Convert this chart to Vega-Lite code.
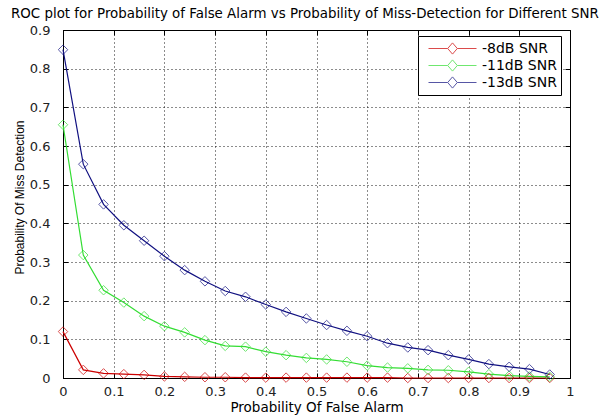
{
  "$schema": "https://vega.github.io/schema/vega-lite/v6.json",
  "width": 507,
  "height": 348,
  "autosize": {"type": "none"},
  "padding": {"left": 63, "top": 30, "right": 40, "bottom": 39},
  "background": "white",
  "title": {
    "text": "ROC plot for Probability of False Alarm vs Probability of Miss-Detection for Different SNR",
    "anchor": "start",
    "frame": "group",
    "dx": -52,
    "offset": 4,
    "font": "DejaVu Sans",
    "fontSize": 13.4,
    "fontWeight": "normal",
    "color": "black"
  },
  "resolve": {"axis": {"x": "independent", "y": "independent"}},
  "config": {
    "view": {"stroke": "black", "strokeWidth": 1},
    "axis": {
      "labelFont": "DejaVu Sans",
      "labelFontSize": 13,
      "labelColor": "#222222",
      "labelFlush": false,
      "titleFont": "DejaVu Sans",
      "titleFontSize": 13.5,
      "titleFontWeight": "normal",
      "titleColor": "black",
      "domainColor": "black",
      "tickColor": "black",
      "gridColor": "black",
      "gridDash": [1, 3],
      "gridOpacity": 0.9,
      "gridWidth": 1
    }
  },
  "data": {
    "values": [
      {"snr": "-8dB SNR", "pfa": 0.00, "pmd": 0.120},
      {"snr": "-8dB SNR", "pfa": 0.04, "pmd": 0.021},
      {"snr": "-8dB SNR", "pfa": 0.08, "pmd": 0.012},
      {"snr": "-8dB SNR", "pfa": 0.12, "pmd": 0.010},
      {"snr": "-8dB SNR", "pfa": 0.16, "pmd": 0.008},
      {"snr": "-8dB SNR", "pfa": 0.20, "pmd": 0.004},
      {"snr": "-8dB SNR", "pfa": 0.24, "pmd": 0.003},
      {"snr": "-8dB SNR", "pfa": 0.28, "pmd": 0.002},
      {"snr": "-8dB SNR", "pfa": 0.32, "pmd": 0.002},
      {"snr": "-8dB SNR", "pfa": 0.36, "pmd": 0.001},
      {"snr": "-8dB SNR", "pfa": 0.40, "pmd": 0.001},
      {"snr": "-8dB SNR", "pfa": 0.44, "pmd": 0.001},
      {"snr": "-8dB SNR", "pfa": 0.48, "pmd": 0.001},
      {"snr": "-8dB SNR", "pfa": 0.52, "pmd": 0.001},
      {"snr": "-8dB SNR", "pfa": 0.56, "pmd": 0.001},
      {"snr": "-8dB SNR", "pfa": 0.60, "pmd": 0.001},
      {"snr": "-8dB SNR", "pfa": 0.64, "pmd": 0.001},
      {"snr": "-8dB SNR", "pfa": 0.68, "pmd": 0.000},
      {"snr": "-8dB SNR", "pfa": 0.72, "pmd": 0.000},
      {"snr": "-8dB SNR", "pfa": 0.76, "pmd": 0.000},
      {"snr": "-8dB SNR", "pfa": 0.80, "pmd": 0.000},
      {"snr": "-8dB SNR", "pfa": 0.84, "pmd": 0.000},
      {"snr": "-8dB SNR", "pfa": 0.88, "pmd": 0.000},
      {"snr": "-8dB SNR", "pfa": 0.92, "pmd": 0.000},
      {"snr": "-8dB SNR", "pfa": 0.96, "pmd": 0.000},
      {"snr": "-11dB SNR", "pfa": 0.00, "pmd": 0.655},
      {"snr": "-11dB SNR", "pfa": 0.04, "pmd": 0.318},
      {"snr": "-11dB SNR", "pfa": 0.08, "pmd": 0.227},
      {"snr": "-11dB SNR", "pfa": 0.12, "pmd": 0.195},
      {"snr": "-11dB SNR", "pfa": 0.16, "pmd": 0.160},
      {"snr": "-11dB SNR", "pfa": 0.20, "pmd": 0.134},
      {"snr": "-11dB SNR", "pfa": 0.24, "pmd": 0.118},
      {"snr": "-11dB SNR", "pfa": 0.28, "pmd": 0.098},
      {"snr": "-11dB SNR", "pfa": 0.32, "pmd": 0.083},
      {"snr": "-11dB SNR", "pfa": 0.36, "pmd": 0.081},
      {"snr": "-11dB SNR", "pfa": 0.40, "pmd": 0.068},
      {"snr": "-11dB SNR", "pfa": 0.44, "pmd": 0.059},
      {"snr": "-11dB SNR", "pfa": 0.48, "pmd": 0.052},
      {"snr": "-11dB SNR", "pfa": 0.52, "pmd": 0.048},
      {"snr": "-11dB SNR", "pfa": 0.56, "pmd": 0.042},
      {"snr": "-11dB SNR", "pfa": 0.60, "pmd": 0.032},
      {"snr": "-11dB SNR", "pfa": 0.64, "pmd": 0.027},
      {"snr": "-11dB SNR", "pfa": 0.68, "pmd": 0.025},
      {"snr": "-11dB SNR", "pfa": 0.72, "pmd": 0.021},
      {"snr": "-11dB SNR", "pfa": 0.76, "pmd": 0.020},
      {"snr": "-11dB SNR", "pfa": 0.80, "pmd": 0.016},
      {"snr": "-11dB SNR", "pfa": 0.84, "pmd": 0.010},
      {"snr": "-11dB SNR", "pfa": 0.88, "pmd": 0.006},
      {"snr": "-11dB SNR", "pfa": 0.92, "pmd": 0.004},
      {"snr": "-11dB SNR", "pfa": 0.96, "pmd": 0.003},
      {"snr": "-13dB SNR", "pfa": 0.00, "pmd": 0.849},
      {"snr": "-13dB SNR", "pfa": 0.04, "pmd": 0.553},
      {"snr": "-13dB SNR", "pfa": 0.08, "pmd": 0.449},
      {"snr": "-13dB SNR", "pfa": 0.12, "pmd": 0.395},
      {"snr": "-13dB SNR", "pfa": 0.16, "pmd": 0.355},
      {"snr": "-13dB SNR", "pfa": 0.20, "pmd": 0.315},
      {"snr": "-13dB SNR", "pfa": 0.24, "pmd": 0.279},
      {"snr": "-13dB SNR", "pfa": 0.28, "pmd": 0.250},
      {"snr": "-13dB SNR", "pfa": 0.32, "pmd": 0.225},
      {"snr": "-13dB SNR", "pfa": 0.36, "pmd": 0.210},
      {"snr": "-13dB SNR", "pfa": 0.40, "pmd": 0.190},
      {"snr": "-13dB SNR", "pfa": 0.44, "pmd": 0.171},
      {"snr": "-13dB SNR", "pfa": 0.48, "pmd": 0.154},
      {"snr": "-13dB SNR", "pfa": 0.52, "pmd": 0.137},
      {"snr": "-13dB SNR", "pfa": 0.56, "pmd": 0.122},
      {"snr": "-13dB SNR", "pfa": 0.60, "pmd": 0.108},
      {"snr": "-13dB SNR", "pfa": 0.64, "pmd": 0.090},
      {"snr": "-13dB SNR", "pfa": 0.68, "pmd": 0.079},
      {"snr": "-13dB SNR", "pfa": 0.72, "pmd": 0.072},
      {"snr": "-13dB SNR", "pfa": 0.76, "pmd": 0.059},
      {"snr": "-13dB SNR", "pfa": 0.80, "pmd": 0.048},
      {"snr": "-13dB SNR", "pfa": 0.84, "pmd": 0.036},
      {"snr": "-13dB SNR", "pfa": 0.88, "pmd": 0.029},
      {"snr": "-13dB SNR", "pfa": 0.92, "pmd": 0.023},
      {"snr": "-13dB SNR", "pfa": 0.96, "pmd": 0.009}
    ]
  },
  "layer": [
    {
      "mark": {"type": "line", "strokeWidth": 1.2},
      "encoding": {
        "x": {
          "field": "pfa",
          "type": "quantitative",
          "scale": {"domain": [0, 1], "nice": false, "zero": false},
          "axis": {
            "title": "Probability Of False Alarm",
            "values": [0, 0.1, 0.2, 0.3, 0.4, 0.5, 0.6, 0.7, 0.8, 0.9, 1],
            "format": "~g",
            "tickSize": -5,
            "labelFlush": false,
            "labelBaseline": "alphabetic",
            "labelPadding": 22,
            "titleBaseline": "alphabetic",
            "titleY": 33.5
          }
        },
        "y": {
          "field": "pmd",
          "type": "quantitative",
          "scale": {"domain": [0, 0.9], "nice": false},
          "axis": {
            "title": "Probability Of Miss Detection",
            "titleFont": "Liberation Sans",
            "titleFontSize": 12,
            "titleBaseline": "bottom",
            "titleAlign": "center",
            "titleX": -37,
            "titleY": 167,
            "values": [0, 0.1, 0.2, 0.3, 0.4, 0.5, 0.6, 0.7, 0.8, 0.9],
            "format": "~g",
            "tickSize": -5,
            "labelFlush": false,
            "labelPadding": 18
          }
        },
        "color": {
          "field": "snr",
          "type": "nominal",
          "scale": {
            "domain": ["-8dB SNR", "-11dB SNR", "-13dB SNR"],
            "range": ["#cc0000", "#33dd33", "#101080"]
          },
          "legend": {
            "title": null,
            "orient": "none",
            "legendX": 355,
            "legendY": 6,
            "symbolType": "M-3,0H-0.6M0.6,0H3M-0.6,0L0,-0.7L0.6,0L0,0.7Z",
            "symbolSize": 256,
            "symbolOffset": 22,
            "symbolStrokeWidth": 1,
            "symbolFillColor": "transparent",
            "labelFont": "DejaVu Sans",
            "labelFontSize": 14,
            "labelColor": "black",
            "labelOffset": 21,
            "rowPadding": 0,
            "padding": 4,
            "strokeColor": "black",
            "fillColor": "white"
          }
        }
      }
    },
    {
      "mark": {"type": "point", "shape": "diamond", "filled": false, "size": 90, "strokeWidth": 1},
      "encoding": {
        "x": {"field": "pfa", "type": "quantitative", "axis": null},
        "y": {"field": "pmd", "type": "quantitative", "axis": null},
        "color": {"field": "snr", "type": "nominal"}
      }
    },
    {
      "mark": {"type": "point", "opacity": 0},
      "encoding": {
        "x": {
          "field": "pfa",
          "type": "quantitative",
          "axis": {
            "orient": "top",
            "title": null,
            "labels": false,
            "grid": false,
            "domain": false,
            "values": [0, 0.1, 0.2, 0.3, 0.4, 0.5, 0.6, 0.7, 0.8, 0.9, 1],
            "tickSize": -5
          }
        },
        "y": {
          "field": "pmd",
          "type": "quantitative",
          "axis": {
            "orient": "right",
            "title": null,
            "labels": false,
            "grid": false,
            "domain": false,
            "values": [0, 0.1, 0.2, 0.3, 0.4, 0.5, 0.6, 0.7, 0.8, 0.9],
            "tickSize": -5
          }
        }
      }
    }
  ]
}
